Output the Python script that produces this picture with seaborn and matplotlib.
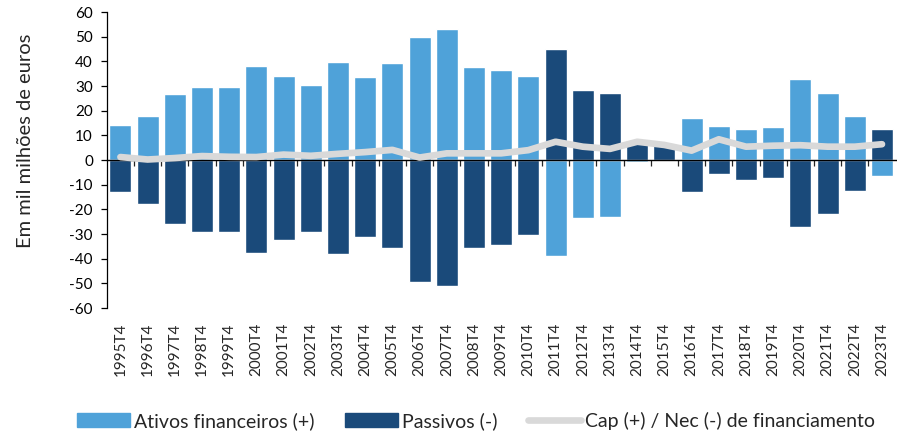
import numpy as np
import pandas as pd
import matplotlib
matplotlib.use("Agg")
import matplotlib.pyplot as plt
import seaborn as sns
from matplotlib.patches import Patch
from matplotlib.lines import Line2D
from matplotlib.ticker import FixedLocator

# dados (mil milhões de euros)
periodos = [f"{a}T4" for a in range(1995, 2024)]
ativos = [14.2, 17.8, 26.6, 29.7, 29.7, 38.1, 33.9, 30.3, 39.6, 33.5,
          39.2, 50.0, 53.1, 37.6, 36.6, 33.9, -38.8, -23.6, -23.1, -0.7,
          -0.5, 16.9, 13.6, 12.7, 13.2, 32.8, 27.2, 17.8, -6.5]
passivos = [-13.1, -17.8, -26.1, -29.3, -29.3, -37.6, -32.4, -29.3, -38.1, -31.3,
            -35.5, -49.5, -51.1, -35.5, -34.5, -30.4, 44.9, 28.2, 27.2, 8.1,
            6.0, -13.1, -5.8, -8.0, -7.4, -27.3, -22.0, -12.7, 12.7]
cap_nec = [1.2, 0.2, 0.8, 1.6, 1.3, 1.2, 2.2, 1.7, 2.5, 3.2,
           4.1, 1.0, 2.7, 2.7, 2.7, 4.0, 7.4, 5.4, 4.5, 7.4,
           6.1, 3.8, 8.4, 5.4, 5.8, 6.0, 5.4, 5.4, 6.4]

nomes = ["Ativos financeiros (+)", "Passivos (-)", "Cap (+) / Nec (-) de financiamento"]
cores = ["#4FA2D9", "#1A4A7A", "#D9D9D9"]

df = pd.DataFrame({
    "periodo": periodos * 2,
    "valor": ativos + passivos,
    "serie": [nomes[0]] * len(periodos) + [nomes[1]] * len(periodos),
})

sns.set_style("white")
plt.rcParams["font.family"] = ["Lato", "DejaVu Sans"]
plt.rcParams["axes.unicode_minus"] = False

fig = plt.figure(figsize=(8.97, 4.36), dpi=100)
ax = fig.add_axes([106.8 / 897, 1 - 308 / 436, 788.8 / 897, 296 / 436])

sns.barplot(data=df, x="periodo", y="valor", hue="serie", palette=cores[:2],
            dodge=False, width=0.81, saturation=1, legend=False, ax=ax)
sns.lineplot(x=np.arange(len(periodos)), y=cap_nec, color=cores[2], lw=4.8,
             solid_capstyle="round", ax=ax, zorder=4)

ax.set_xlim(-0.5, len(periodos) - 0.5)
ax.set_ylim(-60, 60)
ax.set_yticks(range(-60, 61, 10))
ax.tick_params(axis="y", direction="out", length=4, width=0.9, pad=6,
               labelsize=11, left=True, colors="#000000")
for s in ["top", "right"]:
    ax.spines[s].set_visible(False)
ax.spines["left"].set_color("black")
ax.spines["left"].set_linewidth(0.9)
ax.spines["bottom"].set_position(("data", 0))
ax.spines["bottom"].set_color("black")
ax.spines["bottom"].set_linewidth(1.0)
ax.spines["bottom"].set_zorder(3)

ax.xaxis.set_minor_locator(FixedLocator(np.arange(0.5, len(periodos) - 1, 1)))
ax.tick_params(axis="x", which="minor", direction="out", length=4, width=0.9,
               bottom=True)
ax.tick_params(axis="x", which="major", length=0, pad=117, labelsize=11,
               labelrotation=90)
for t in ax.get_xticklabels():
    t.set_verticalalignment("top")

ax.set_xlabel("")
ax.set_ylabel("Em mil milhões de euros", fontsize=14.5)
ax.yaxis.set_label_coords(-0.092, 0.564)

handles = [Patch(color=cores[0]), Patch(color=cores[1]),
           Line2D([], [], color=cores[2], lw=4.8)]
fig.legend(handles, nomes, ncol=3, loc="center left",
           bbox_to_anchor=(77 / 897, 1 - 421 / 436), frameon=False,
           fontsize=14, handlelength=2.75, handleheight=0.75, handletextpad=0.2,
           columnspacing=1.55, borderpad=0, borderaxespad=0)

fig.savefig("out.png", dpi=100)
